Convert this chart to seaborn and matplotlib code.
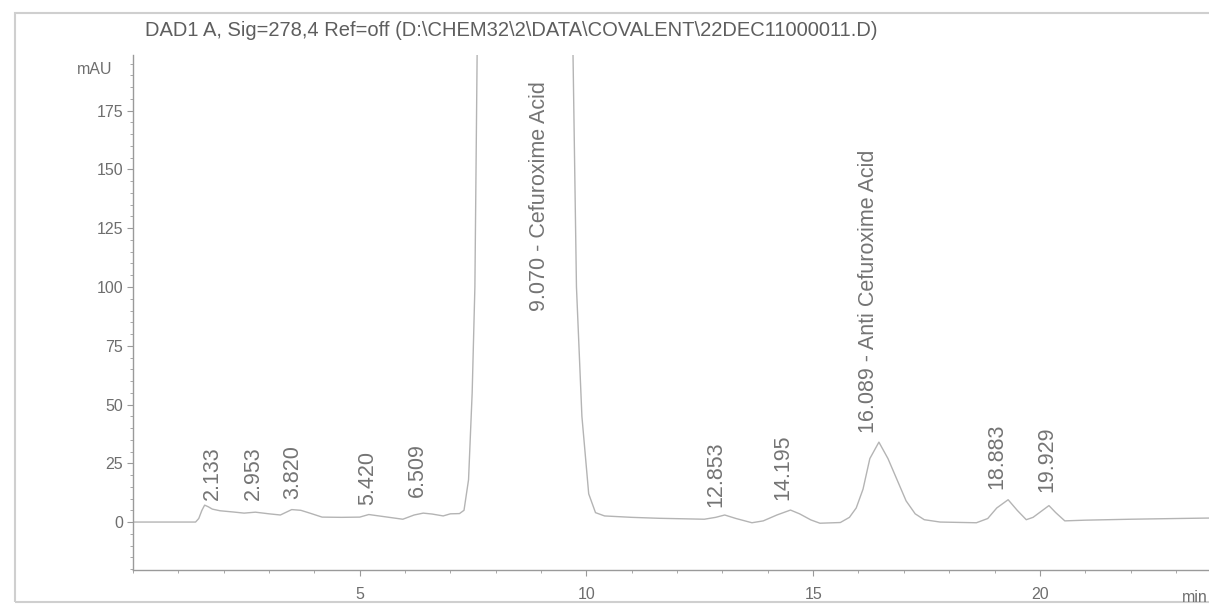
import numpy as np
import pandas as pd
import matplotlib
matplotlib.use('Agg')
import matplotlib.pyplot as plt
import seaborn as sns
from matplotlib.patches import Rectangle
from matplotlib.ticker import MultipleLocator

sns.set_theme(style='white')
plt.rcParams['font.family'] = ['Liberation Sans', 'DejaVu Sans']

# Trace (time in min, signal in mAU)
time_min = [0.0, 1.38, 1.45, 1.52, 1.58, 1.66, 1.75, 1.92, 2.2, 2.45, 2.7, 3.0, 3.25,
            3.5, 3.7, 3.9, 4.17, 4.6, 5.0, 5.2, 5.5, 5.95, 6.2, 6.4, 6.6, 6.84, 7.0,
            7.2, 7.3, 7.4, 7.48, 7.54, 7.6, 7.75, 8.2, 9.0, 9.45, 9.68, 9.78, 9.9,
            10.05, 10.2, 10.4, 11.0, 11.6, 12.6, 12.85, 13.05, 13.3, 13.65, 13.9,
            14.2, 14.5, 14.7, 14.95, 15.15, 15.6, 15.8, 15.95, 16.1, 16.25, 16.45,
            16.65, 16.85, 17.05, 17.25, 17.45, 17.8, 18.6, 18.85, 19.05, 19.3, 19.5,
            19.7, 19.85, 20.2, 20.35, 20.55, 21.0, 22.0, 23.0, 23.73]
signal_mau = [0.0, 0.0, 1.5, 5.0, 7.2, 6.5, 5.5, 4.8, 4.3, 3.8, 4.2, 3.5, 3.0,
              5.3, 5.0, 3.8, 2.1, 2.0, 2.1, 3.2, 2.4, 1.2, 3.0, 3.8, 3.4, 2.6, 3.5,
              3.6, 5.0, 18.0, 55.0, 100.0, 220.0, 700.0, 1200.0, 1250.0, 900.0, 230.0, 100.0, 45.0,
              12.0, 4.0, 2.6, 2.0, 1.6, 1.2, 2.0, 3.0, 1.5, -0.3, 0.5,
              3.0, 5.1, 3.5, 0.9, -0.5, -0.2, 2.0, 6.0, 14.0, 27.0, 34.0,
              27.0, 18.0, 9.0, 3.5, 1.0, 0.0, -0.3, 1.5, 6.0, 9.5, 5.0,
              1.0, 2.0, 7.0, 4.0, 0.5, 0.8, 1.2, 1.5, 1.7]

# Peak annotations: text, x position (min), bottom of label (mAU)
peak_labels = ['2.133', '2.953', '3.820', '5.420', '6.509', '9.070 - Cefuroxime Acid',
               '12.853', '14.195', '16.089 - Anti Cefuroxime Acid', '18.883', '19.929']
label_x = [1.74, 2.65, 3.53, 5.18, 6.28, 8.97, 12.86, 14.33, 16.23, 19.05, 20.15]
label_y = [9.4, 9.4, 9.8, 7.2, 10.6, 90.0, 6.4, 9.4, 38.0, 14.0, 12.8]

y_ticks = [0, 25, 50, 75, 100, 125, 150, 175]
x_ticks = [5, 10, 15, 20]

df = pd.DataFrame({'time': time_min, 'signal': signal_mau})

text_col = '#6e6e6e'
line_col = '#b4b4b4'
axis_col = '#9a9a9a'

fig = plt.figure(figsize=(12.09, 6.06), dpi=100)
ax = fig.add_axes([133 / 1209, 1 - 570 / 606, 1 - 133 / 1209, (570 - 55) / 606])

sns.lineplot(data=df, x='time', y='signal', ax=ax, color=line_col, linewidth=1.0)

ax.set_xlim(0, 23.73)
ax.set_ylim(-20.4, 198.7)
ax.set_xlabel('')
ax.set_ylabel('')

ax.set_yticks(y_ticks)
ax.set_xticks(x_ticks)
ax.yaxis.set_minor_locator(MultipleLocator(5))
ax.xaxis.set_minor_locator(MultipleLocator(1))
ax.tick_params(axis='both', which='major', direction='out', length=4, width=0.8,
               color=axis_col, labelcolor=text_col, labelsize=11.5)
ax.tick_params(axis='both', which='minor', direction='out', length=2, width=0.6, color=axis_col)
ax.tick_params(axis='x', which='both', bottom=True, pad=8)
ax.tick_params(axis='y', which='both', left=True, pad=3)

for side in ['top', 'right']:
    ax.spines[side].set_visible(False)
for side in ['left', 'bottom']:
    ax.spines[side].set_color(axis_col)
    ax.spines[side].set_linewidth(1.0)

for txt, x, y in zip(peak_labels, label_x, label_y):
    ax.text(x, y, txt, rotation=90, ha='center', va='bottom', fontsize=15.5, color='#747474')

fig.text(145 / 1209, 1 - 30 / 606, 'DAD1 A, Sig=278,4 Ref=off (D:\\CHEM32\\2\\DATA\\COVALENT\\22DEC11000011.D)',
         ha='left', va='center', fontsize=14.5, color='#5e5e5e')
fig.text(112 / 1209, 1 - 70 / 606, 'mAU', ha='right', va='center', fontsize=11.5, color=text_col)
fig.text(1182 / 1209, 1 - 597 / 606, 'min', ha='left', va='center', fontsize=11.5, color=text_col)

# outer frame of the printout
fig.patches.append(Rectangle((15 / 1209, 1 - 602 / 606), 1.0, (602 - 13) / 606,
                             transform=fig.transFigure, fill=False,
                             edgecolor='#cfcfcf', linewidth=1.5))

plt.savefig('out.png', dpi=100)
